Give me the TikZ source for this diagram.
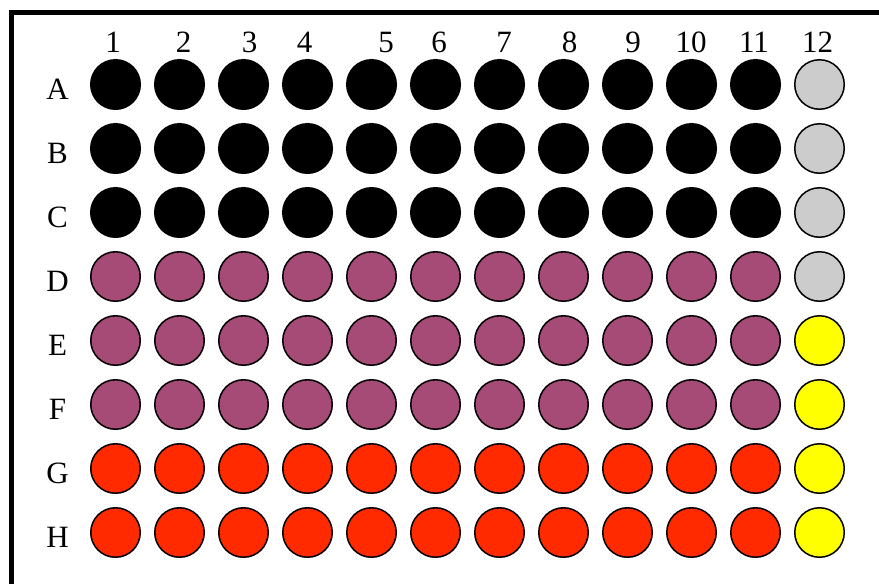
\documentclass[tikz,border=0pt]{standalone}
\usepackage{fontspec}
\setmainfont{Liberation Serif}
\definecolor{wellgray}{RGB}{204,204,204}
\definecolor{wellplum}{RGB}{166,74,118}
\definecolor{wellred}{RGB}{255,42,0}
\definecolor{wellyellow}{RGB}{255,255,0}
\tikzset{
  well/.style={circle, inner sep=0pt, minimum size=49.5pt, line width=1.5pt, draw=black},
  blackwell/.style={well, fill=black},
  graywell/.style={well, fill=wellgray},
  plumwell/.style={well, fill=wellplum},
  redwell/.style={well, fill=wellred},
  yellowwell/.style={well, fill=wellyellow},
  lbl/.style={anchor=base, inner sep=0pt, font=\fontsize{31}{31}\selectfont},
  frame/.style={line width=5pt, draw=black}
}
\begin{document}
\begin{tikzpicture}[x=1pt, y=-1pt]
\useasboundingbox (0,0) rectangle (879,584);
\clip (0,0) rectangle (879,584);
% frame
\coordinate (f1) at (11.5,600);
\coordinate (f2) at (11.5,12.5);
\coordinate (f3) at (900,12.5);
\draw[frame] (f1) -- (f2) -- (f3);
% column labels
\foreach \c/\x in {1/113, 2/183.5, 3/249.5, 4/304.5, 5/386, 6/439, 7/504, 8/569.5, 9/633, 10/691, 11/754, 12/817.5}
  \node[lbl] (col\c) at (\x,52) {\c};
% row labels and wells
\foreach \r/\i/\sty/\last in {A/0/blackwell/graywell, B/1/blackwell/graywell, C/2/blackwell/graywell, D/3/plumwell/graywell, E/4/plumwell/yellowwell, F/5/plumwell/yellowwell, G/6/redwell/yellowwell, H/7/redwell/yellowwell} {
  \node[lbl] (row\r) at (57.5, 84.5+64*\i+14.5) {\r};
  \foreach \c in {1,...,11}
    \node[\sty] (w\r\c) at (115.5+64*\c-64, 84.5+64*\i) {};
  \node[\last] (w\r12) at (819.5, 84.5+64*\i) {};
}
\end{tikzpicture}
\end{document}
